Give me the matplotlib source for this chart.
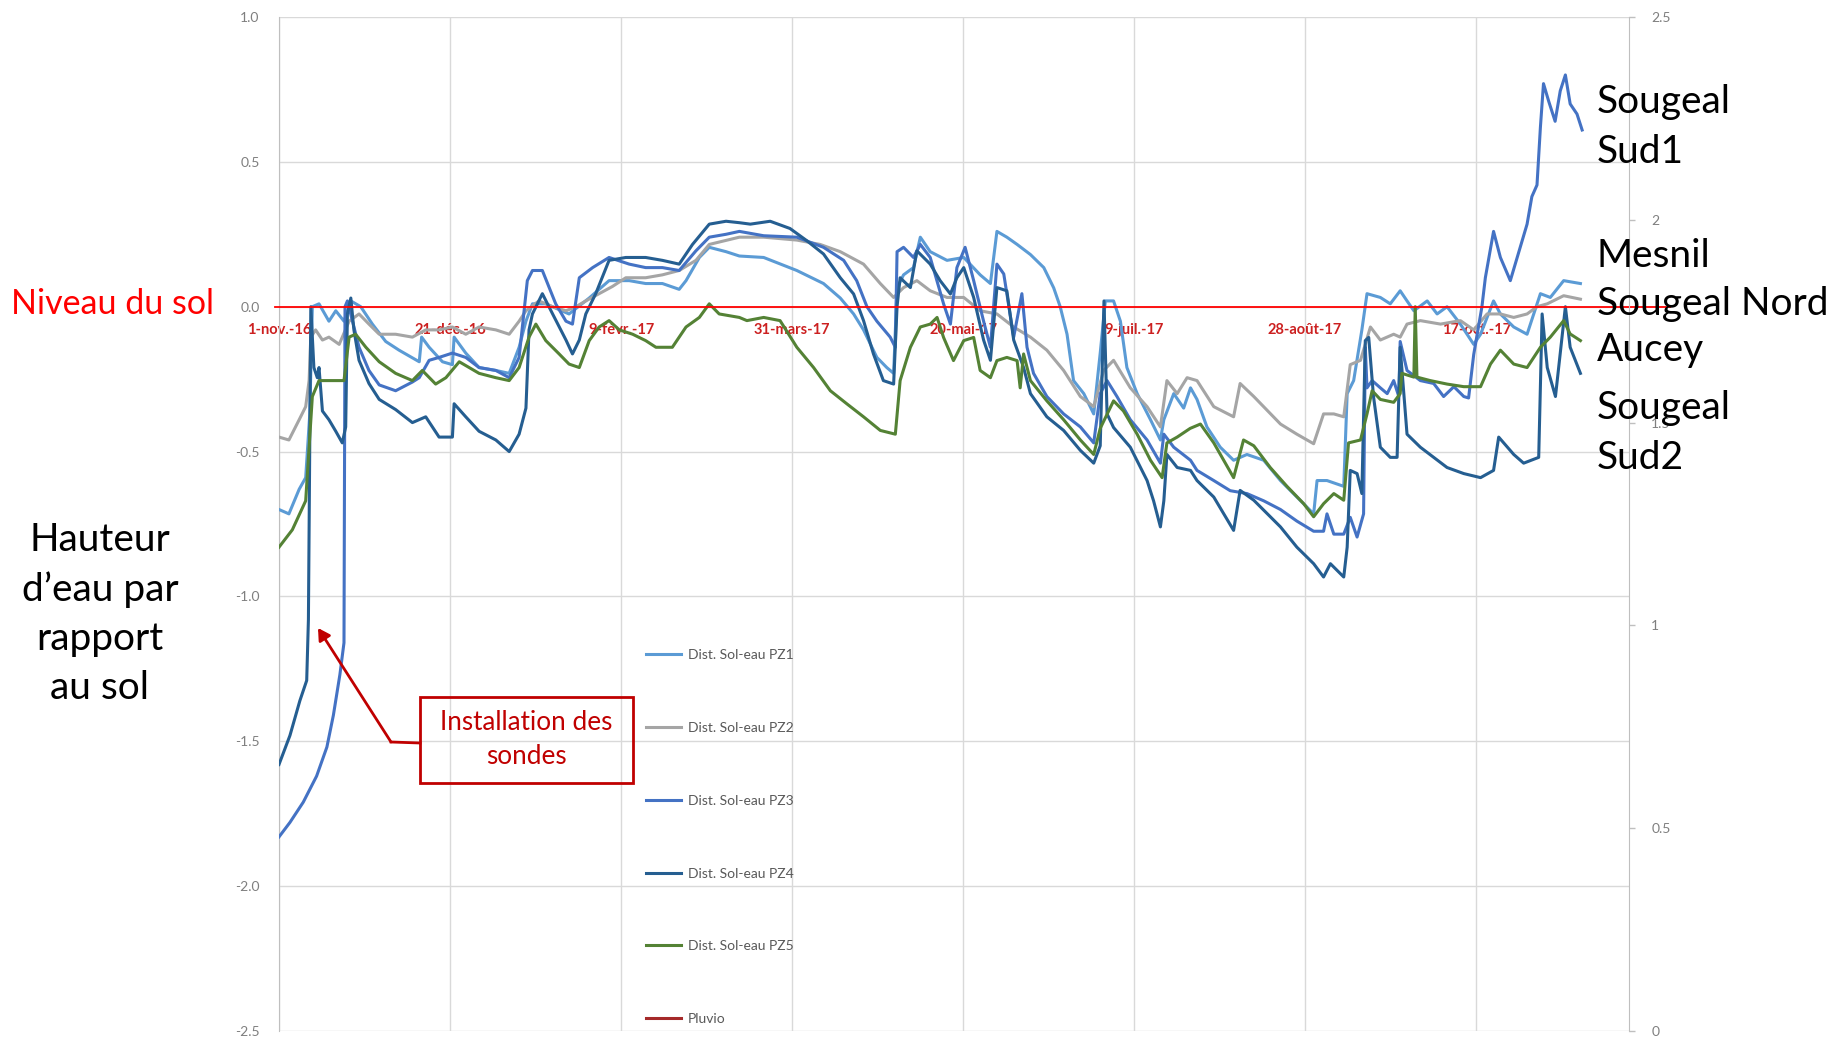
import matplotlib
matplotlib.use("Agg")
import matplotlib.pyplot as plt
from matplotlib.lines import Line2D
from matplotlib.patches import Rectangle, FancyArrowPatch

plt.rcParams['font.family'] = ['Lato', 'DejaVu Sans']

# ---- data: days since 1 Nov 2016, water level relative to ground (m) ----
pz1_days = [0, 2.9, 5.9, 7.8, 9.0, 9.75, 11.7, 14.6, 16.6, 19.0, 21.0, 23.9, 27.3, 31.2, 35.1, 41.0, 41.7,
            43.9, 47.8, 50.7, 51.2, 54.6, 58.5, 63.4, 67.3, 70.2, 72.2, 74.1, 78, 84.8, 90.7, 96.5, 102.4,
            107.2, 112.1, 117, 119, 122.9, 125.8, 130.7, 134.6, 141.7, 151.4, 159.2, 164.1, 168, 170.9,
            174.8, 177.7, 179.7, 180.7, 182.6, 185.5, 187.5, 190.4, 195.3, 200.2, 205, 208, 209.9, 212.8,
            215.8, 219.7, 223.6, 226.5, 228.4, 230.4, 232.3, 235.3, 238.2, 240.1, 241.6, 244, 246, 247.9,
            250.9, 254.8, 257.7, 258.7, 261.6, 264.5, 266.5, 268.4, 271.3, 275.2, 279.1, 283, 287.9,
            292.8, 302.5, 303.5, 306.4, 311.3, 312.3, 314.2, 316.6, 318.1, 322, 324.9, 327.8, 329.8,
            331.8, 335.7, 338.6, 341.5, 345.4, 349.3, 351.3, 355.1, 357.1, 361, 364.9, 368.8, 371.7,
            375.6, 380.5]
pz1_vals = [-0.70, -0.715, -0.63, -0.59, -0.37, 0.0, 0.01, -0.05, -0.014, -0.05, 0.02, 0.0, -0.06, -0.12,
            -0.15, -0.19, -0.105, -0.14, -0.19, -0.20, -0.105, -0.16, -0.21, -0.22, -0.23, -0.14, -0.05,
            0.01, 0.01, -0.025, 0.03, 0.09, 0.09, 0.08, 0.08, 0.06, 0.09, 0.17, 0.205, 0.19, 0.175, 0.17,
            0.125, 0.08, 0.03, -0.025, -0.08, -0.175, -0.21, -0.23, 0.065, 0.11, 0.135, 0.24, 0.19, 0.16,
            0.17, 0.11, 0.08, 0.26, 0.24, 0.215, 0.18, 0.135, 0.065, 0.0, -0.095, -0.255, -0.30, -0.37,
            -0.16, 0.02, 0.02, -0.05, -0.21, -0.30, -0.39, -0.46, -0.39, -0.30, -0.35, -0.28, -0.32,
            -0.415, -0.485, -0.53, -0.51, -0.53, -0.60, -0.715, -0.60, -0.60, -0.62, -0.30, -0.255, -0.08,
            0.045, 0.032, 0.01, 0.055, 0.02, -0.014, 0.02, -0.025, 0.0, -0.06, -0.13, -0.095, 0.02,
            -0.025, -0.07, -0.095, 0.045, 0.032, 0.09, 0.08]

pz2_days = [0, 2.9, 5.9, 7.8, 8.8, 9.3, 10.7, 12.7, 14.6, 17.6, 20.5, 23.4, 26.3, 29.3, 34.1, 39, 42.9,
            46.8, 50.7, 54.6, 58.5, 63.4, 67.3, 70.2, 72.2, 76, 80, 83.9, 86.8, 89.7, 93.6, 97.5, 101.4,
            107.2, 112.1, 117, 121.9, 125.8, 134.6, 141.7, 151.4, 158.2, 164.1, 170.9, 175.8, 179.7,
            182.6, 186.5, 190.4, 195.3, 200.2, 205, 209.9, 214.8, 219.7, 224.5, 229.4, 234.3, 238.2,
            241.1, 244, 248.9, 253.8, 257.7, 259.6, 262.6, 265.5, 268.4, 273.3, 279.1, 281, 285, 292.8,
            297.6, 302.5, 305.4, 308.4, 311.3, 313.2, 316.2, 319.1, 322, 325.9, 327.8, 329.8, 333.7,
            339.6, 345.4, 349.3, 353.2, 357.1, 361, 364.9, 367.8, 370.8, 375.6, 380.5]
pz2_vals = [-0.45, -0.46, -0.39, -0.345, -0.255, -0.105, -0.08, -0.115, -0.105, -0.13, -0.05, -0.025,
            -0.06, -0.095, -0.095, -0.105, -0.08, -0.08, -0.07, -0.095, -0.07, -0.08, -0.095, -0.05,
            -0.014, 0.02, 0.0, -0.014, 0.0, 0.02, 0.045, 0.07, 0.10, 0.10, 0.11, 0.125, 0.16, 0.215,
            0.24, 0.24, 0.23, 0.215, 0.19, 0.147, 0.08, 0.032, 0.066, 0.09, 0.055, 0.032, 0.032,
            -0.014, -0.025, -0.07, -0.105, -0.15, -0.22, -0.31, -0.345, -0.22, -0.185, -0.28, -0.345,
            -0.415, -0.255, -0.30, -0.245, -0.255, -0.345, -0.38, -0.265, -0.31, -0.405, -0.44, -0.473,
            -0.37, -0.37, -0.38, -0.20, -0.185, -0.07, -0.115, -0.095, -0.105, -0.06, -0.048, -0.06,
            -0.048, -0.08, -0.025, -0.025, -0.037, -0.025, 0.0, 0.01, 0.038, 0.026]

pz3_days = [0, 3.2, 7.1, 11, 14, 15.9, 17.8, 19.0, 19.3, 20.0, 21.5, 23.4, 26.3, 29.3, 34.1, 39, 41,
            43.9, 46.8, 50.7, 54.6, 58.5, 63.4, 67.3, 70.2, 72.6, 74.1, 77, 79, 80.9, 83.9, 85.8, 87.8,
            91.7, 96.5, 102.4, 107.2, 112.1, 117, 121.9, 125.8, 130.7, 134.6, 141.7, 151.4, 159.2,
            165.1, 168.9, 171.9, 174.8, 178.7, 180.2, 180.7, 182.6, 185.5, 187.5, 190.4, 194.3, 196.3,
            198.2, 200.6, 203.1, 206, 208, 209.9, 211.9, 214.8, 217.2, 218.7, 220.6, 224.5, 229.4,
            234.3, 238.2, 240.1, 242.1, 245, 248.9, 253.8, 257.7, 258.7, 261.6, 266.5, 268.4, 273.3,
            278.1, 283, 287.9, 292.8, 297.6, 302.5, 305.4, 306.4, 308.4, 311.3, 313.2, 315.2, 317.1,
            317.6, 318.1, 319.6, 322, 324, 325.9, 327.4, 327.8, 329.8, 333.7, 337.6, 340.5, 343.5,
            346.4, 347.8, 349.3, 351.7, 352.7, 355.1, 357.1, 360, 362.9, 364.9, 366.3, 367.8, 368.8,
            369.7, 371.2, 373.1, 374.6, 376.1, 377.5, 379.5, 381]
pz3_vals = [-1.83, -1.78, -1.71, -1.62, -1.52, -1.41, -1.27, -1.16, 0.0, 0.02, -0.05, -0.14, -0.22,
            -0.27, -0.29, -0.26, -0.245, -0.185, -0.175, -0.16, -0.175, -0.21, -0.22, -0.245, -0.175,
            0.09, 0.125, 0.125, 0.066, 0.01, -0.05, -0.06, 0.10, 0.135, 0.17, 0.147, 0.135, 0.135,
            0.125, 0.193, 0.24, 0.25, 0.26, 0.245, 0.24, 0.205, 0.16, 0.09, 0.0, -0.05, -0.105, -0.14,
            0.19, 0.205, 0.17, 0.215, 0.17, 0.01, -0.06, 0.135, 0.205, 0.09, -0.05, -0.14, 0.147, 0.113,
            -0.105, 0.045, -0.14, -0.23, -0.31, -0.37, -0.415, -0.47, -0.30, -0.255, -0.31, -0.39,
            -0.46, -0.54, -0.44, -0.485, -0.53, -0.565, -0.60, -0.635, -0.645, -0.67, -0.70, -0.74,
            -0.775, -0.775, -0.715, -0.785, -0.785, -0.727, -0.795, -0.715, -0.14, -0.28, -0.255,
            -0.28, -0.30, -0.255, -0.31, -0.12, -0.22, -0.255, -0.265, -0.31, -0.276, -0.31, -0.315,
            -0.165, 0.0, 0.10, 0.26, 0.17, 0.09, 0.205, 0.285, 0.38, 0.42, 0.62, 0.77, 0.71, 0.64,
            0.745, 0.80, 0.70, 0.665, 0.61]

pz4_days = [0, 3.2, 6.1, 8.1, 8.6, 9.3, 10.2, 11.2, 11.7, 12.7, 14.6, 16.6, 18.5, 19.5, 20.0, 21.0,
            21.9, 23.4, 26.3, 29.3, 34.1, 39, 42.9, 46.8, 50.7, 51.2, 54.6, 58.5, 63.4, 67.3, 70.2,
            72.2, 73.1, 74.1, 77, 80, 83.9, 85.8, 87.8, 89.7, 92.6, 96.5, 101.4, 107.2, 112.1, 117,
            120.9, 125.8, 130.7, 134.6, 137.8, 143.6, 149.4, 154.3, 159.2, 164.1, 168, 170.9, 173.8,
            176.7, 179.7, 180.7, 181.6, 184.6, 186.5, 190.4, 193.3, 196.3, 198.2, 200.2, 203.1, 206,
            208, 209.9, 212.8, 214.8, 217.7, 219.7, 224.5, 229.4, 234.3, 238.2, 240.1, 241.2, 242.1,
            244, 248.9, 253.8, 255.7, 257.7, 258.7, 259.6, 262.6, 266.5, 268.4, 273.3, 279.1, 281,
            285, 292.8, 297.6, 302.5, 305.4, 307.4, 311.3, 312.3, 313.2, 315.2, 316.6, 317.6, 318.6,
            320, 322, 324.9, 326.9, 327.8, 329.8, 333.7, 337.6, 341.5, 346.4, 351.3, 355.1, 356.6,
            361, 363.9, 368.3, 369.3, 370.8, 373.2, 376.1, 377.5, 380.5]
pz4_vals = [-1.58, -1.48, -1.36, -1.29, -1.08, 0.0, -0.21, -0.245, -0.21, -0.36, -0.39, -0.43, -0.47,
            -0.415, -0.025, 0.03, -0.08, -0.185, -0.265, -0.32, -0.355, -0.40, -0.38, -0.45, -0.45,
            -0.335, -0.38, -0.43, -0.46, -0.50, -0.44, -0.35, -0.08, -0.025, 0.045, -0.025, -0.115,
            -0.163, -0.115, -0.025, 0.045, 0.16, 0.17, 0.17, 0.16, 0.147, 0.215, 0.285, 0.295, 0.29,
            0.285, 0.295, 0.27, 0.228, 0.182, 0.10, 0.044, -0.048, -0.163, -0.255, -0.267, 0.0, 0.10,
            0.066, 0.193, 0.147, 0.09, 0.044, 0.10, 0.135, 0.032, -0.115, -0.185, 0.066, 0.055, -0.115,
            -0.21, -0.30, -0.38, -0.427, -0.496, -0.54, -0.48, 0.02, -0.37, -0.417, -0.485, -0.60,
            -0.67, -0.76, -0.67, -0.51, -0.555, -0.565, -0.60, -0.657, -0.772, -0.634, -0.668, -0.76,
            -0.83, -0.887, -0.933, -0.887, -0.933, -0.83, -0.565, -0.576, -0.645, -0.117, -0.106,
            -0.31, -0.485, -0.52, -0.52, -0.14, -0.44, -0.485, -0.52, -0.555, -0.576, -0.59, -0.565,
            -0.45, -0.51, -0.54, -0.52, -0.025, -0.21, -0.31, 0.0, -0.14, -0.23]

pz5_days = [0, 3.9, 7.8, 8.8, 9.75, 11.7, 14.6, 19.0, 20.5, 22.4, 25.4, 29.3, 34.1, 39, 41.9, 45.8,
            48.8, 52.7, 55.6, 58.5, 63.4, 67.3, 70.2, 73.1, 75.1, 78, 81.9, 84.8, 87.8, 90.7, 93.6,
            96.5, 99.5, 103.4, 107.2, 110.2, 115, 119, 122.9, 125.8, 128.7, 134.6, 136.8, 141.7, 146.5,
            151.4, 156.3, 161.2, 166, 170.9, 175.8, 180.2, 181.6, 184.6, 187.5, 190.4, 192.4, 194.3,
            197.2, 200.2, 203.1, 205, 208, 209.9, 212.8, 215.8, 216.7, 217.7, 219.7, 224.5, 229.4,
            234.3, 238.2, 240.1, 244, 246.9, 250.9, 254.8, 258.2, 259.6, 262.6, 266.4, 269.4, 273.3,
            279.1, 282, 285, 289.8, 294.7, 299.6, 302.5, 305.4, 308.4, 311.3, 312.7, 316.2, 318.1,
            319.6, 322, 325.9, 327.8, 328.3, 331.8, 332.2, 332.7, 336.6, 341.5, 346.4, 351.3, 354.2,
            357.1, 361, 364.9, 368.8, 371.7, 375.6, 377.5, 380.5]
pz5_vals = [-0.83, -0.77, -0.67, -0.485, -0.31, -0.255, -0.255, -0.255, -0.105, -0.095, -0.14, -0.19,
            -0.23, -0.255, -0.22, -0.267, -0.245, -0.19, -0.21, -0.23, -0.245, -0.255, -0.21, -0.105,
            -0.06, -0.117, -0.163, -0.198, -0.21, -0.117, -0.07, -0.048, -0.08, -0.095, -0.117, -0.14,
            -0.14, -0.07, -0.037, 0.01, -0.025, -0.037, -0.048, -0.037, -0.048, -0.14, -0.21, -0.29,
            -0.335, -0.38, -0.427, -0.44, -0.255, -0.14, -0.07, -0.06, -0.037, -0.106, -0.186, -0.117,
            -0.106, -0.22, -0.245, -0.186, -0.175, -0.186, -0.28, -0.163, -0.255, -0.325, -0.39, -0.46,
            -0.51, -0.42, -0.325, -0.36, -0.44, -0.53, -0.59, -0.47, -0.45, -0.42, -0.405, -0.47, -0.59,
            -0.46, -0.48, -0.555, -0.62, -0.68, -0.725, -0.68, -0.645, -0.668, -0.47, -0.46, -0.37,
            -0.29, -0.32, -0.33, -0.30, -0.23, -0.243, 0.0, -0.243, -0.255, -0.267, -0.276, -0.276,
            -0.198, -0.15, -0.198, -0.21, -0.14, -0.105, -0.048, -0.094, -0.117]

# rainfall series (secondary axis) – no values recorded on the plotted period
pluvio_days = []
pluvio_vals = []

series_labels = ['Dist. Sol-eau PZ1', 'Dist. Sol-eau PZ2', 'Dist. Sol-eau PZ3',
                 'Dist. Sol-eau PZ4', 'Dist. Sol-eau PZ5']
date_ticks = [0, 50, 100, 150, 200, 250, 300, 350]
date_labels = ['1-nov.-16', '21-déc.-16', '9-févr.-17', '31-mars-17',
               '20-mai-17', '9-juil.-17', '28-août-17', '17-oct.-17']
left_ticks = [-2.5, -2.0, -1.5, -1.0, -0.5, 0.0, 0.5, 1.0]
right_ticks = [0, 0.5, 1, 1.5, 2, 2.5]
right_labels = ['0', '0.5', '1', '1.5', '2', '2.5']

colors = ['#5B9BD5', '#A5A5A5', '#4472C4', '#255E91', '#548235']
pluvio_color = '#A52A2A'

# ---- figure layout ----
W, H = 1833, 1041
fig = plt.figure(figsize=(W / 100, H / 100), dpi=100)


def fx(px):
    return px / W


def fy(py):
    return 1 - py / H


ax = fig.add_axes([fx(279), fy(1031), fx(1629) - fx(279), fy(17) - fy(1031)])
ax2 = ax.twinx()

series = [(pz1_days, pz1_vals), (pz2_days, pz2_vals), (pz3_days, pz3_vals),
          (pz4_days, pz4_vals), (pz5_days, pz5_vals)]
handles = []
for (d, v), c, lab in zip(series, colors, series_labels):
    h, = ax.plot(d, v, color=c, lw=2.2, label=lab, solid_joinstyle='round', zorder=3)
    handles.append(h)
hp, = ax2.plot(pluvio_days, pluvio_vals, color=pluvio_color, lw=2.2, label='Pluvio')
handles.append(hp)

ax.set_xlim(0, 394.7)
ax.set_ylim(-2.5, 1.0)
ax2.set_ylim(0, 2.5)

grid_c = '#d9d9d9'
ax.set_yticks(left_ticks)
ax.set_yticklabels([f'{t:.1f}' for t in left_ticks])
ax.set_xticks(date_ticks)
ax.set_xticklabels(date_labels)
ax.grid(True, color=grid_c, lw=1.0, zorder=0)
ax.set_axisbelow(True)

ax.tick_params(axis='y', length=0, pad=14, labelsize=10, labelcolor='#7f7f7f')
ax.spines['bottom'].set_position(('data', 0))
ax.spines['bottom'].set_visible(False)
ax.tick_params(axis='x', length=0, pad=12, labelsize=10.5, labelcolor='#cc2020')
for t in ax.get_xticklabels():
    t.set_fontweight('bold')
    t.set_zorder(4)
ax.spines['top'].set_visible(False)
ax2.spines['top'].set_visible(False)
ax2.spines['bottom'].set_visible(False)
ax.spines['left'].set_color('#bfbfbf')
ax2.spines['left'].set_visible(False)
ax2.spines['right'].set_color('#bfbfbf')
ax.spines['right'].set_visible(False)
ax2.set_yticks(right_ticks)
ax2.set_yticklabels(right_labels)
ax2.tick_params(axis='y', length=4, width=1, color='#bfbfbf', pad=12, labelsize=10,
                labelcolor='#7f7f7f')

# ground level line
ax.axhline(0, xmin=-0.003, xmax=1.03, color='#ff0000', lw=1.3, clip_on=False, zorder=5)

# legend stacked vertically inside the plot
leg = ax.legend(handles=handles, loc='upper left', frameon=False,
                bbox_to_anchor=(fx(646), fy(649)), bbox_transform=fig.transFigure,
                borderpad=0, borderaxespad=0, handlelength=2.5, handletextpad=0.5,
                labelspacing=4.38, fontsize=10)
for t in leg.get_texts():
    t.set_color('#595959')

# side labels
fig.text(fx(113), fy(304), 'Niveau du sol', color='#ff0000', fontsize=24.5,
         ha='center', va='center')
fig.text(fx(100), fy(614), 'Hauteur\nd’eau par\nrapport\nau sol', color='black',
         fontsize=28, ha='center', va='center', linespacing=1.45)

right_names = [('Sougeal', 102), ('Sud1', 152), ('Mesnil', 256), ('Sougeal Nord', 304),
               ('Aucey', 350), ('Sougeal', 408), ('Sud2', 458)]
for name, py in right_names:
    fig.text(fx(1597), fy(py), name, color='black', fontsize=28, ha='left', va='center')

# probe installation callout
box_c = '#c00000'
fig.add_artist(Rectangle((fx(420), fy(783)), fx(633) - fx(420), fy(697) - fy(783),
                         transform=fig.transFigure, fill=False, ec=box_c, lw=2.0))
fig.text(fx(526.5), fy(740), 'Installation des\nsondes', color=box_c, fontsize=18.8,
         ha='center', va='center', linespacing=1.45)
fig.add_artist(Line2D([fx(420), fx(391)], [fy(743), fy(742)], transform=fig.transFigure,
                      color=box_c, lw=2.0))
fig.patches.append(FancyArrowPatch(
    (fx(391), fy(742)), (fx(318), fy(628)), transform=fig.transFigure,
    arrowstyle='-|>,head_length=7,head_width=4', color=box_c, lw=2.0,
    shrinkA=0, shrinkB=0))

fig.savefig('out.png', dpi=100)
